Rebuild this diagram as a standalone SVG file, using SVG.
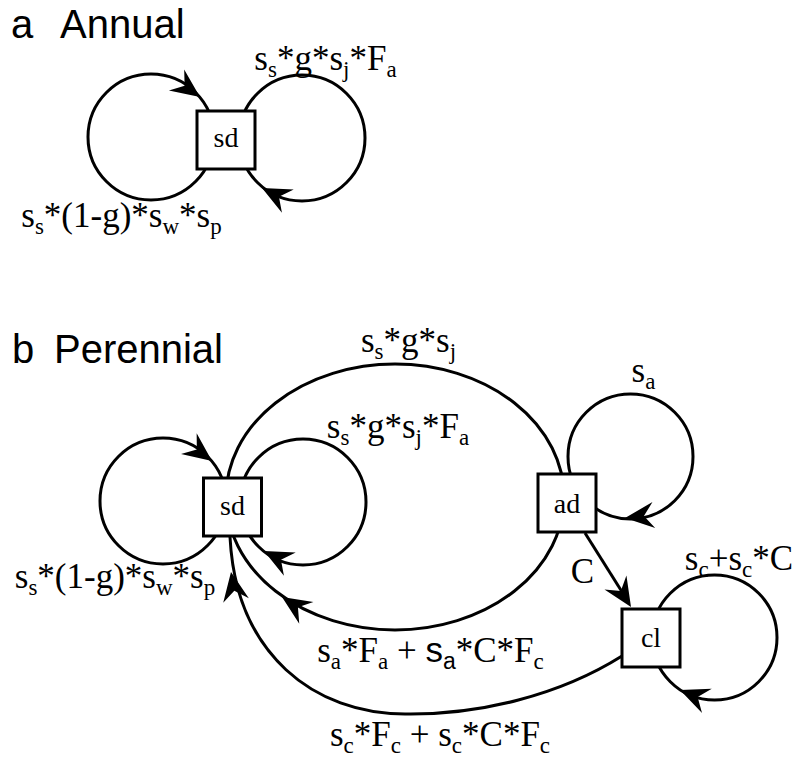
<svg xmlns="http://www.w3.org/2000/svg" width="795" height="760" viewBox="0 0 795 760">
<style>
.ln{fill:none;stroke:#000;stroke-width:3}
.bx{fill:#fff;stroke:#000;stroke-width:3}
.nt{font-family:"Liberation Serif",serif;font-size:28px;text-anchor:middle}
.lb{font-family:"Liberation Serif",serif;font-size:35px;text-anchor:middle}
.sb{font-size:23px}
.sans{font-family:"Liberation Sans",sans-serif}
.ttl{font-family:"Liberation Sans",Arial,sans-serif;font-size:40px}
</style>
<defs><path id="ah" d="M0,0 L-29,-13 L-19,0 L-29,13 Z"/></defs>
<rect width="795" height="760" fill="#fff"/>
<g id="titles">
<text class="ttl" x="11" y="38">a<tspan x="60">Annual</tspan></text>
<text class="ttl" x="12" y="363">b<tspan x="54">Perennial</tspan></text>
</g>
<g id="connectors">
<circle class="ln" cx="151" cy="137" r="63"/>
<circle class="ln" cx="302" cy="138" r="63"/>
<use href="#ah" transform="translate(200,97) rotate(36)"/>
<use href="#ah" transform="translate(262,188) rotate(207)"/>
<circle class="ln" cx="163" cy="501" r="63"/>
<circle class="ln" cx="303" cy="502" r="63"/>
<ellipse class="ln" cx="395" cy="497" rx="169" ry="133"/>
<circle class="ln" cx="630.5" cy="456.5" r="62.5"/>
<circle class="ln" cx="714.5" cy="637.5" r="62.5"/>
<line class="ln" x1="585" y1="533" x2="624" y2="595"/>
<path class="ln" d="M622,656 C560,695 480,715 405,714 C315,714 236,655 230,537"/>
<use href="#ah" transform="translate(212,461) rotate(37)"/>
<use href="#ah" transform="translate(264,551) rotate(207)"/>
<use href="#ah" transform="translate(625,518) rotate(174)"/>
<use href="#ah" transform="translate(680,690) rotate(202)"/>
<use href="#ah" transform="translate(282,597) rotate(213)"/>
<use href="#ah" transform="translate(231,572) rotate(-100)"/>
<use href="#ah" transform="translate(631,607) rotate(57.6)"/>
</g>
<g id="node-sd-a"><rect class="bx" x="197" y="111" width="58" height="58"/><text class="nt" x="226" y="147">sd</text></g>
<g id="node-sd-b"><rect class="bx" x="203.5" y="478" width="58" height="58"/><text class="nt" x="232.5" y="515">sd</text></g>
<g id="node-ad"><rect class="bx" x="538" y="474" width="58" height="58"/><text class="nt" x="567" y="513">ad</text></g>
<g id="node-cl"><rect class="bx" x="622" y="609" width="58" height="58"/><text class="nt" x="651" y="647">cl</text></g>
<g id="labels">
<text class="lb" x="325.5" y="70">s<tspan class="sb" dy="7">s</tspan><tspan dy="-7">*g*s</tspan><tspan class="sb" dy="7">j</tspan><tspan dy="-7">*F</tspan><tspan class="sb" dy="7">a</tspan></text>
<text class="lb" x="121.5" y="227">s<tspan class="sb" dy="7">s</tspan><tspan dy="-7">*(1-g)*s</tspan><tspan class="sb" dy="7">w</tspan><tspan dy="-7">*s</tspan><tspan class="sb" dy="7">p</tspan></text>
<text class="lb" x="408.5" y="352">s<tspan class="sb" dy="7">s</tspan><tspan dy="-7">*g*s</tspan><tspan class="sb" dy="7">j</tspan></text>
<text class="lb" x="398" y="438">s<tspan class="sb" dy="7">s</tspan><tspan dy="-7">*g*s</tspan><tspan class="sb" dy="7">j</tspan><tspan dy="-7">*F</tspan><tspan class="sb" dy="7">a</tspan></text>
<text class="lb" x="643.5" y="382">s<tspan class="sb" dy="7">a</tspan></text>
<text class="lb" x="739" y="570">s<tspan class="sb" dy="7">c</tspan><tspan dy="-7">+s</tspan><tspan class="sb" dy="7">c</tspan><tspan dy="-7">*C</tspan></text>
<text class="lb" x="582.5" y="583">C</text>
<text class="lb" x="115" y="588">s<tspan class="sb" dy="7">s</tspan><tspan dy="-7">*(1-g)*s</tspan><tspan class="sb" dy="7">w</tspan><tspan dy="-7">*s</tspan><tspan class="sb" dy="7">p</tspan></text>
<text class="lb" x="430.5" y="662">s<tspan class="sb" dy="7">a</tspan><tspan dy="-7">*F</tspan><tspan class="sb" dy="7">a</tspan><tspan dy="-7"> + </tspan><tspan class="sans">s</tspan><tspan class="sb sans" dy="7">a</tspan><tspan dy="-7">*C*F</tspan><tspan class="sb" dy="7">c</tspan></text>
<text class="lb" x="440" y="746">s<tspan class="sb" dy="7">c</tspan><tspan dy="-7">*F</tspan><tspan class="sb" dy="7">c</tspan><tspan dy="-7"> + s</tspan><tspan class="sb" dy="7">c</tspan><tspan dy="-7">*C*F</tspan><tspan class="sb" dy="7">c</tspan></text>
</g>
</svg>
